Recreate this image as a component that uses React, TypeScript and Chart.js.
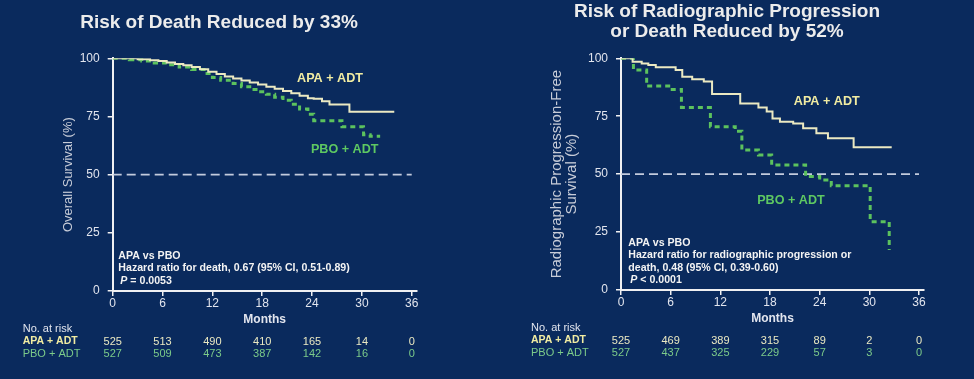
import React, { useEffect, useRef } from 'react';
import { Chart, registerables } from 'chart.js';

Chart.register(...registerables);

// ---------------- data ----------------
const xTicks = [0, 6, 12, 18, 24, 30, 36];
const yTicks = [0, 25, 50, 75, 100];
const medianLevel = 50;
const medianFrom = 0;
const medianTo = 36;

// Panel 1: overall survival
const osApaMonths = [0, 3, 4.5, 5.5, 6.5, 7.5, 8.5, 9.5, 10.5, 11.5, 12.5, 13.5, 14.5, 15.5, 16.5, 17.5, 18.5, 19.5, 20.5, 21.5, 22.5, 23.5, 24.2, 25.2, 26.1, 28.5, 33.9];
const osApaSurv = [100, 99.6, 99.2, 98.8, 98.2, 97.6, 97, 96.3, 95.3, 94.2, 93.2, 92.2, 91.3, 90.5, 89.6, 88.7, 87.8, 86.9, 85.9, 85, 83.9, 82.8, 82.6, 81.5, 80.1, 77.0, 77.0];
const osPboMonths = [0, 2, 3.5, 5, 6.5, 8, 9.5, 11, 12, 13, 14.5, 15.5, 16.5, 17.5, 18.5, 19.5, 20.5, 21.5, 22.5, 23.5, 24.2, 27.6, 30.2, 31, 32.2];
const osPboSurv = [100, 99.4, 98.8, 98, 97.2, 96.3, 95.2, 93.5, 91.8, 90.6, 89.2, 87.8, 86.6, 85.6, 84.5, 83.3, 82, 80.3, 78.2, 76, 73.2, 70.6, 67.2, 66.5, 66.5];
const osRiskApa = [525, 513, 490, 410, 165, 14, 0];
const osRiskPbo = [527, 509, 473, 387, 142, 16, 0];

// Panel 2: radiographic progression-free survival
const rpfsApaMonths = [0, 1.4, 2.5, 3.3, 4.2, 6.6, 7.4, 8.6, 10, 11, 14.4, 16.6, 17.6, 18.3, 19.2, 20.8, 22, 23.6, 25, 28.1, 32.7];
const rpfsApaSurv = [100, 98.5, 97.8, 97.1, 96.1, 95, 92, 91, 90, 84.6, 80.5, 78.8, 77, 74, 72.6, 71.9, 69.8, 67.6, 65.5, 61.6, 61.6];
const rpfsPboMonths = [0, 1.5, 3.1, 6, 7.3, 10.8, 13.8, 14.6, 16.6, 18.2, 22.3, 24, 25.4, 30.1, 32.4];
const rpfsPboSurv = [100, 95, 88, 86.5, 78.8, 70.5, 68.5, 60.4, 58.3, 54, 49, 47.5, 45, 29.5, 17.3];
const rpfsRiskApa = [525, 469, 389, 315, 89, 2, 0];
const rpfsRiskPbo = [527, 437, 325, 229, 57, 3, 0];

// ---------------- styles ----------------
const FONT = '"Liberation Sans", Arial, Helvetica, sans-serif';
const BG = '#0a2a5d';
const C_APA = '#ebe9c2';
const C_APA_TXT = '#f1eca2';
const C_PBO = '#5cc25e';
const C_PBO_TXT = '#5ec862';
const C_RISK_PBO = '#7ccb8a';
const C_AXIS = '#f0f0f2';
const C_TICK = '#e2e5ee';
const C_YTITLE = '#c7ccd8';
const C_MEDIAN = '#c3cbdd';
const C_TITLE = '#ececec';

type PanelSpec = {
  title: string[];
  titleLineHeight: number;
  titlePadTop: number;
  titlePadBottom: number;
  padLeft: number;
  padRight: number;
  yScaleWidth: number;
  xScaleHeight: number;
  monthsPad: number;
  yTitle: string[];
  yTitleSize: number;
  yTitlePad: number;
  apaMonths: number[];
  apaSurv: number[];
  pboMonths: number[];
  pboSurv: number[];
  riskApa: number[];
  riskPbo: number[];
  apaLabelAt: [number, number];
  pboLabelAt: [number, number];
  hrAt: [number, number];
  hrLineGap: number;
  hrLines: string[];
  hrP: string;
};

const panels: PanelSpec[] = [
  {
    title: ['Risk of Death Reduced by 33%'],
    titleLineHeight: 1.2,
    titlePadTop: 11.3,
    titlePadBottom: 24.2,
    padLeft: 21.3,
    padRight: 70.3,
    yScaleWidth: 91.4,
    xScaleHeight: 88,
    monthsPad: 51.8,
    yTitle: ['Overall Survival (%)'],
    yTitleSize: 13,
    yTitlePad: 40.5,
    apaMonths: osApaMonths,
    apaSurv: osApaSurv,
    pboMonths: osPboMonths,
    pboSurv: osPboSurv,
    riskApa: osRiskApa,
    riskPbo: osRiskPbo,
    apaLabelAt: [26.16, 91.4],
    pboLabelAt: [27.93, 60.6],
    hrAt: [0.68, 15.0],
    hrLineGap: 12.3,
    hrLines: ['APA vs PBO', 'Hazard ratio for death, 0.67 (95% CI, 0.51-0.89)'],
    hrP: '= 0.0053',
  },
  {
    title: ['Risk of Radiographic Progression', 'or Death Reduced by 52%'],
    titleLineHeight: 20 / 19,
    titlePadTop: 1.7,
    titlePadBottom: 16.6,
    padLeft: 43,
    padRight: 50,
    yScaleWidth: 91,
    xScaleHeight: 89,
    monthsPad: 52.8,
    yTitle: ['Radiographic Progression-Free', 'Survival (%)'],
    yTitleSize: 15,
    yTitlePad: 19.2,
    apaMonths: rpfsApaMonths,
    apaSurv: rpfsApaSurv,
    pboMonths: rpfsPboMonths,
    pboSurv: rpfsPboSurv,
    riskApa: rpfsRiskApa,
    riskPbo: rpfsRiskPbo,
    apaLabelAt: [24.85, 81.3],
    pboLabelAt: [20.53, 38.5],
    hrAt: [0.88, 20.4],
    hrLineGap: 12.5,
    hrLines: ['APA vs PBO', 'Hazard ratio for radiographic progression or', 'death, 0.48 (95% CI, 0.39-0.60)'],
    hrP: '< 0.0001',
  },
];

function makeExtras(spec: PanelSpec) {
  return {
    id: 'kmExtras',
    afterDraw(chart: any) {
      const { ctx, chartArea } = chart;
      const xs = chart.scales.x;
      const ys = chart.scales.y;
      ctx.save();
      ctx.textBaseline = 'middle';

      // arm labels
      ctx.textAlign = 'center';
      ctx.font = `bold 12.6px ${FONT}`;
      ctx.fillStyle = C_APA_TXT;
      ctx.fillText('APA + ADT', xs.getPixelForValue(spec.apaLabelAt[0]), ys.getPixelForValue(spec.apaLabelAt[1]));
      ctx.fillStyle = C_PBO_TXT;
      ctx.fillText('PBO + ADT', xs.getPixelForValue(spec.pboLabelAt[0]), ys.getPixelForValue(spec.pboLabelAt[1]));

      // hazard ratio block
      ctx.textAlign = 'left';
      ctx.fillStyle = '#f3f3f3';
      const hx = xs.getPixelForValue(spec.hrAt[0]);
      const hy = ys.getPixelForValue(spec.hrAt[1]);
      ctx.font = `bold 10.6px ${FONT}`;
      spec.hrLines.forEach((t, i) => ctx.fillText(t, hx, hy + i * spec.hrLineGap));
      const py = hy + spec.hrLines.length * spec.hrLineGap;
      ctx.font = `italic bold 10.6px ${FONT}`;
      ctx.fillText('P', hx + 2, py);
      const pw = ctx.measureText('P').width;
      ctx.font = `bold 10.6px ${FONT}`;
      ctx.fillText(' ' + spec.hrP, hx + 2 + pw, py);

      // number at risk table
      const lx = chartArea.left - 90;
      const b = chartArea.bottom;
      ctx.font = `11px ${FONT}`;
      ctx.fillStyle = C_TICK;
      ctx.fillText('No. at risk', lx, b + 38);
      ctx.font = `bold 10.5px ${FONT}`;
      ctx.fillStyle = C_APA_TXT;
      ctx.fillText('APA + ADT', lx, b + 50.5);
      ctx.font = `11px ${FONT}`;
      ctx.fillStyle = C_RISK_PBO;
      ctx.fillText('PBO + ADT', lx, b + 63);

      ctx.textAlign = 'center';
      xTicks.forEach((m, i) => {
        const x = xs.getPixelForValue(m);
        ctx.fillStyle = C_APA;
        ctx.fillText(String(spec.riskApa[i]), x, b + 50.5);
        ctx.fillStyle = C_RISK_PBO;
        ctx.fillText(String(spec.riskPbo[i]), x, b + 63);
      });
      ctx.restore();
    },
  };
}

function buildConfig(spec: PanelSpec): any {
  const toPts = (ms: number[], vs: number[]) => ms.map((m, i) => ({ x: m, y: vs[i] }));
  return {
    type: 'line',
    data: {
      datasets: [
        {
          label: 'APA + ADT',
          data: toPts(spec.apaMonths, spec.apaSurv),
          borderColor: C_APA,
          borderWidth: 2,
          stepped: true,
          pointRadius: 0,
          fill: false,
        },
        {
          label: 'PBO + ADT',
          data: toPts(spec.pboMonths, spec.pboSurv),
          borderColor: C_PBO,
          borderWidth: 3,
          borderDash: [5, 4],
          stepped: true,
          pointRadius: 0,
          fill: false,
        },
        {
          label: 'Median',
          data: [
            { x: medianFrom, y: medianLevel },
            { x: medianTo, y: medianLevel },
          ],
          borderColor: C_MEDIAN,
          borderWidth: 1.6,
          borderDash: [9, 5],
          pointRadius: 0,
          fill: false,
        },
      ],
    },
    options: {
      responsive: false,
      animation: false,
      events: [],
      layout: { padding: { left: spec.padLeft, right: spec.padRight, top: 0, bottom: 0 } },
      plugins: {
        legend: { display: false },
        tooltip: { enabled: false },
        title: {
          display: true,
          text: spec.title,
          color: C_TITLE,
          align: 'center',
          font: { family: FONT, size: 19, weight: 'bold', lineHeight: spec.titleLineHeight },
          padding: { top: spec.titlePadTop, bottom: spec.titlePadBottom },
        },
      },
      scales: {
        x: {
          type: 'linear',
          min: 0,
          max: 36.6,
          afterBuildTicks: (s: any) => {
            s.ticks = xTicks.map((v) => ({ value: v }));
          },
          afterFit: (s: any) => {
            s.height = spec.xScaleHeight;
          },
          ticks: { color: C_TICK, font: { family: FONT, size: 12 }, padding: 0, maxRotation: 0, autoSkip: false },
          grid: { drawOnChartArea: false, drawTicks: true, tickLength: 5, color: C_AXIS, lineWidth: 1.5 },
          border: { display: true, color: C_AXIS, width: 2 },
          title: {
            display: true,
            text: 'Months',
            color: C_TICK,
            font: { family: FONT, size: 12, weight: 'bold', lineHeight: 1.2 },
            padding: { top: 0, bottom: spec.monthsPad },
          },
        },
        y: {
          type: 'linear',
          min: 0,
          max: 100,
          afterBuildTicks: (s: any) => {
            s.ticks = yTicks.map((v) => ({ value: v }));
          },
          afterFit: (s: any) => {
            s.width = spec.yScaleWidth;
          },
          ticks: { color: C_TICK, font: { family: FONT, size: 12 }, padding: 8 },
          grid: { drawOnChartArea: false, drawTicks: true, tickLength: 5, color: C_AXIS, lineWidth: 1.5 },
          border: { display: true, color: C_AXIS, width: 2 },
          title: {
            display: true,
            text: spec.yTitle,
            color: C_YTITLE,
            font: { family: FONT, size: spec.yTitleSize, lineHeight: 1 },
            padding: { top: spec.yTitlePad, bottom: 0 },
          },
        },
      },
    },
    plugins: [makeExtras(spec)],
  };
}

function KMPanel({ spec, left }: { spec: PanelSpec; left: number }) {
  const ref = useRef<HTMLCanvasElement | null>(null);
  useEffect(() => {
    if (!ref.current) return;
    const chart = new Chart(ref.current, buildConfig(spec));
    return () => chart.destroy();
  }, [spec]);
  return (
    <canvas
      ref={ref}
      width={487}
      height={379}
      style={{ position: 'absolute', left, top: 0, width: 487, height: 379, display: 'block' }}
    />
  );
}

export default function App() {
  useEffect(() => {
    document.body.style.margin = '0';
    document.body.style.overflow = 'hidden';
    document.body.style.background = BG;
  }, []);
  return (
    <div style={{ position: 'absolute', left: 0, top: 0, width: 974, height: 379, background: BG, overflow: 'hidden' }}>
      <KMPanel spec={panels[0]} left={0} />
      <KMPanel spec={panels[1]} left={487} />
    </div>
  );
}
